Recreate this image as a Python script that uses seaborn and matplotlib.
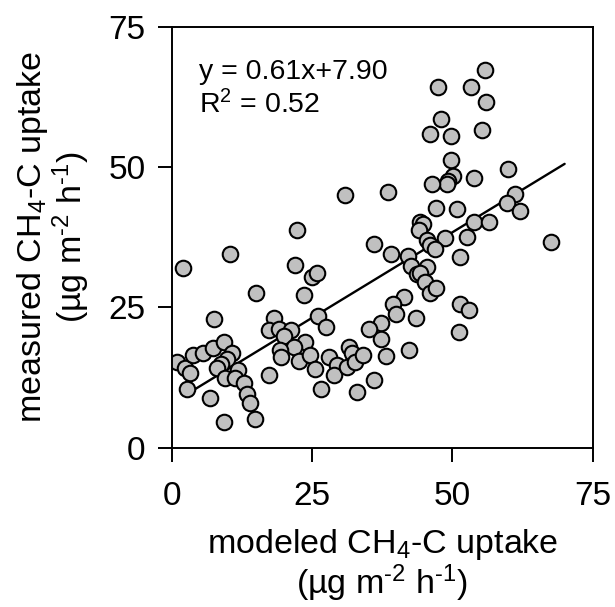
import numpy as np
import pandas as pd
import matplotlib
matplotlib.use("Agg")
import matplotlib.pyplot as plt
import seaborn as sns

# modeled CH4-C uptake (x) and measured CH4-C uptake (y), µg m-2 h-1
modeled = [
    55.8, 47.4, 53.4, 56.0, 48.0, 46.1, 49.8, 55.3, 49.8, 50.2, 49.2, 49.0, 46.3, 53.8,
    59.9, 38.5, 61.2, 59.7, 62.1, 47.0, 50.8, 53.8, 56.5, 44.3, 44.7, 44.0, 48.7, 52.6,
    45.5, 46.1, 46.9, 67.5, 39.1, 42.1, 51.4, 36.0,
    42.6, 45.5, 43.7, 44.3, 45.1, 46.1, 47.1, 41.4, 39.4, 40.0, 43.6, 51.4, 53.0, 51.2,
    37.2, 37.2, 38.1, 42.3, 36.0, 35.2,
    30.9, 22.4, 10.4, 22.0, 2.0, 25.0, 25.9, 15.1, 23.6, 7.5, 18.3, 26.0, 27.5, 17.3,
    19.2, 21.3, 20.0, 23.8, 21.7, 19.3, 19.5, 22.6, 24.6, 25.6, 17.3, 26.6, 28.1, 29.4,
    29.0, 31.5, 32.1, 31.2, 32.6, 34.0, 33.0,
    0.9, 2.4, 3.2, 2.7, 3.8, 5.5, 7.4, 9.4, 10.7, 9.9, 8.7, 8.1, 9.5, 11.8, 11.2, 12.8,
    13.4, 14.0, 14.9, 9.3, 6.9,
]
measured = [
    67.3, 64.3, 64.3, 61.6, 58.6, 55.9, 55.6, 56.6, 51.3, 48.5, 47.6, 47.0, 47.0, 48.0,
    49.6, 45.6, 45.3, 43.6, 42.2, 42.8, 42.5, 40.3, 40.2, 40.2, 39.8, 38.8, 37.3, 37.6,
    37.0, 36.1, 35.4, 36.7, 34.5, 34.2, 34.0, 36.3,
    32.4, 32.3, 31.0, 31.1, 29.5, 27.5, 28.4, 26.9, 25.7, 23.8, 23.1, 25.7, 24.5, 20.7,
    22.2, 19.3, 16.4, 17.4, 12.1, 21.1,
    45.0, 38.8, 34.5, 32.5, 32.0, 30.5, 31.1, 27.5, 27.2, 22.9, 23.1, 23.5, 21.5, 21.0,
    21.2, 21.0, 20.0, 18.9, 18.0, 17.4, 16.1, 15.5, 16.5, 14.0, 13.0, 10.5, 16.2, 14.7,
    13.0, 18.0, 16.8, 14.4, 15.3, 16.6, 10.0,
    15.3, 14.2, 13.4, 10.4, 16.6, 16.8, 17.7, 18.9, 16.8, 15.9, 15.0, 14.2, 12.4, 13.9,
    12.4, 11.5, 9.6, 7.9, 5.2, 4.5, 8.8,
]

# fitted regression line y = slope * x + intercept, drawn over this x range
fit_slope = 0.61
fit_intercept = 7.90
fit_r2 = 0.52
fit_x = [4.0, 70.0]

ticks = [0, 25, 50, 75]

df = pd.DataFrame({"modeled": modeled, "measured": measured})

sns.set_style("ticks")
plt.rcParams["font.family"] = ["Liberation Sans", "DejaVu Sans"]
plt.rcParams["mathtext.fontset"] = "custom"
plt.rcParams["mathtext.rm"] = "Liberation Sans"
plt.rcParams["mathtext.it"] = "Liberation Sans"
plt.rcParams["text.color"] = "black"
plt.rcParams["axes.labelcolor"] = "black"

fig = plt.figure(figsize=(6.15, 6.07), dpi=100)
ax = fig.add_axes([171.7 / 615, 1 - 447.7 / 607, 421 / 615, 420.7 / 607])

fx = np.array(fit_x)
ax.plot(fx, fit_slope * fx + fit_intercept, color="black", lw=1.7, zorder=1)

sns.scatterplot(data=df, x="modeled", y="measured", ax=ax, s=125,
                color="#c0c0c0", edgecolor="black", linewidth=1.5, zorder=2)

ax.set_xlim(0, 75)
ax.set_ylim(0, 75)
ax.set_xticks(ticks)
ax.set_yticks(ticks)
ax.set_xticklabels([str(t) for t in ticks])
ax.set_yticklabels([str(t) for t in ticks])
ax.tick_params(axis="both", direction="out", length=10, width=1.4,
               labelsize=24, color="black", labelcolor="black")
ax.tick_params(axis="x", pad=14)
ax.tick_params(axis="y", pad=9)
for sp in ax.spines.values():
    sp.set_visible(True)
    sp.set_color("black")
    sp.set_linewidth(1.4)

unit = r"(µg m$^{\text{-2}}$ h$^{\text{-1}}$)"
ax.set_xlabel("modeled CH$_4$-C uptake\n" + unit, fontsize=24.5,
              linespacing=1.0, labelpad=11)
ax.set_ylabel("measured CH$_4$-C uptake\n" + unit, fontsize=24.5,
              linespacing=1.0, labelpad=12)

ax.text(0.065, 0.925, f"y = {fit_slope:.2f}x+{fit_intercept:.2f}", transform=ax.transAxes,
        fontsize=20.5, va="top", ha="left")
ax.text(0.065, 0.85, f"R$^2$ = {fit_r2:.2f}", transform=ax.transAxes,
        fontsize=20.5, va="top", ha="left")

fig.savefig("out.png", dpi=100)
